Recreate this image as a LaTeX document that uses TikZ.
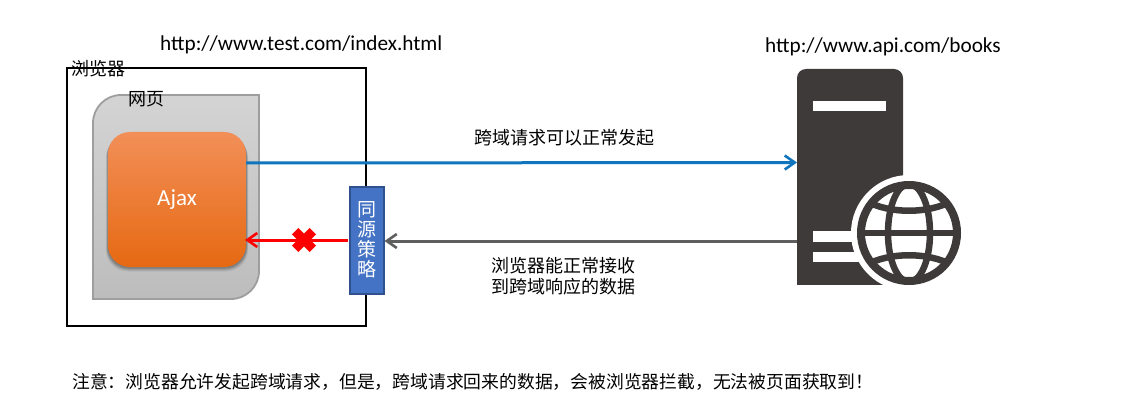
\documentclass[tikz,border=0pt]{standalone}
\usepackage{fontspec}
\setmainfont{Carlito}
\newfontfamily\cjk{Noto Sans CJK SC}
\usetikzlibrary{arrows.meta}
\definecolor{srv}{HTML}{3E3A39}
\definecolor{blueline}{HTML}{0F75BC}
\definecolor{grayline}{HTML}{5F5F5F}
\tikzset{
  cn/.style={font=\fontsize{18}{22}\selectfont\cjk,inner sep=0pt,text=black,align=center},
  url/.style={font=\fontsize{21.25}{25}\selectfont,inner sep=0pt,text=black},
  arr/.style={line width=3pt,-{Straight Barb[length=10pt,width=14pt,line width=2.6pt]}},
  globeline/.style={draw=srv,line width=6.5pt}
}
\begin{document}
\begin{tikzpicture}[x=1pt,y=-1pt]
\useasboundingbox (0,0) rectangle (1121,409);
\fill[white] (0,0) rectangle (1121,409);
% browser
\node[draw=black,line width=2.2pt,minimum width=299pt,minimum height=258pt,inner sep=0pt] (browser) at (216.5,197) {};
\node[cn,anchor=west] (browserlabel) at (71,69) {浏览器};
% page
\path[draw=black!38,line width=1.8pt,top color=black!17,bottom color=black!26]
  (93,299) [rounded corners=28pt] -- (93,95) [sharp corners] -- (259,95) [rounded corners=28pt] -- (259,299) [sharp corners] -- cycle;
\node[cn,anchor=west] (pagelabel) at (128,99) {网页};
% shadow of ajax
\foreach \o/\a in {4.5/.06,3.5/.08,2.5/.10,1.5/.14}
  \fill[black,opacity=\a,rounded corners=22pt] (108-\o/2,132+\o) rectangle (246+\o/2,267+\o);
% ajax
\node[rounded corners=22pt,minimum width=138pt,minimum height=135pt,inner sep=0pt,text=white,
  top color={rgb,255:red,242;green,143;blue,88},middle color={rgb,255:red,248;green,126;blue,36},bottom color={rgb,255:red,230;green,105;blue,18},
  font=\fontsize{23}{27}\selectfont] (ajax) at (177,199.5) {Ajax};
% policy
\node[draw={rgb,255:red,47;green,82;blue,143},line width=2pt,fill={rgb,255:red,68;green,114;blue,196},
  minimum width=34pt,minimum height=107pt,inner sep=0pt,text=white,align=center,
  font=\fontsize{19}{20}\selectfont\cjk] (policy) at (366.5,240) {同\\源\\策\\略};
% server
\node[fill=srv,rounded corners=9pt,minimum width=106pt,minimum height=215pt,inner sep=0pt] (server) at (850,176.5) {};
\fill[srv] (797,270) rectangle (903,284.5);
\fill[white] (813,101) rectangle (886,111);
\fill[white] (813,231) rectangle (860,241.5);
\fill[white] (813,252) rectangle (860,262);
\fill[white] (909,233) circle (58);
\begin{scope}
\path[clip] (909,233) circle (49);
\draw[globeline] (909,233) ellipse (21 and 49);
\draw[globeline] (859,233) -- (959,233);
\draw[globeline] (866,201) .. controls (890,214) and (928,214) .. (952,201);
\draw[globeline] (866,265) .. controls (890,252) and (928,252) .. (952,265);
\end{scope}
\draw[srv,line width=8pt] (909,233) circle (48);
% connectors
\coordinate (bluefrom) at (246,163);
\coordinate (blueto) at (797,162.5);
\coordinate (grayfrom) at (797,241);
\coordinate (grayto) at (384.5,241);
\coordinate (redfrom) at (348,240);
\coordinate (redto) at (245,240);
\coordinate (xc) at (304,240);
\draw[arr,draw=blueline] (bluefrom) -- (blueto);
\draw[arr,draw=grayline] (grayfrom) -- (grayto);
\draw[arr,draw=red] (redfrom) -- (redto);
\draw[red,line width=9pt] ([shift={(-8.8,-8.8)}]xc) -- ([shift={(8.8,8.8)}]xc);
\draw[red,line width=9pt] ([shift={(-8.8,8.8)}]xc) -- ([shift={(8.8,-8.8)}]xc);
% labels
\node[url,anchor=west] (urla) at (160,45) {http://www.test.com/index.html};
\node[url,anchor=west] (urlb) at (765,46.5) {http://www.api.com/books};
\node[cn] (t1) at (564.5,138) {跨域请求可以正常发起};
\node[cn,align=center] (t2) at (563.5,276.5) {浏览器能正常接收\\[-1pt]到跨域响应的数据};
\node[cn,anchor=west,font=\fontsize{17.8}{22}\selectfont\cjk] (note) at (72,382) {注意：浏览器允许发起跨域请求，但是，跨域请求回来的数据，会被浏览器拦截，无法被页面获取到！};
\end{tikzpicture}
\end{document}
